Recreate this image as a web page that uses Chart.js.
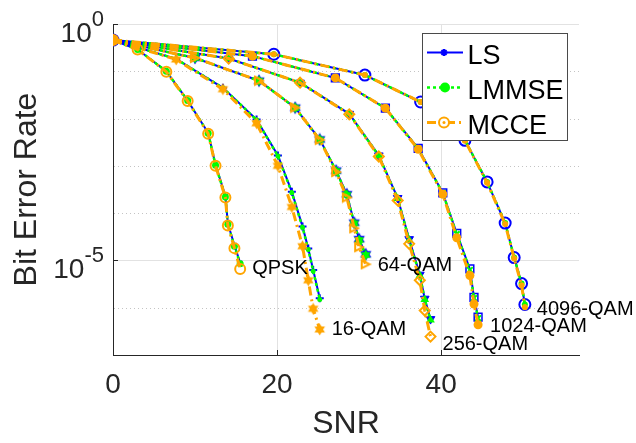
<!DOCTYPE html>
<html>
<head>
<meta charset="utf-8">
<script src="https://cdn.jsdelivr.net/npm/chart.js@4/dist/chart.umd.min.js"></script>
<style>
  html, body { margin: 0; padding: 0; background: #fff; }
  #wrap { width: 636px; height: 443px; }
</style>
</head>
<body>
<div id="wrap"><canvas id="c" width="636" height="443"></canvas></div>
<script>
// ---- data: SNR (dB) and bit error rate per modulation and estimator ----
const modulations = ['QPSK', '16-QAM', '64-QAM', '256-QAM', '1024-QAM', '4096-QAM'];
const methods = ['LS', 'LMMSE', 'MCCE'];

const snrQpsk   = [0, 3, 6.5, 9.1, 11.6, 12.5, 13.7, 14.0, 14.8, 15.5];
const lsQpsk    = [0.457, 0.288, 0.1, 0.024, 5.0e-3, 1.05e-3, 2.3e-4, 6.0e-5, 2.1e-5, 8.9e-6];
const lmmseQpsk = [0.457, 0.288, 0.1, 0.024, 4.9e-3, 1.03e-3, 2.2e-4, 5.8e-5, 2.0e-5, 8.5e-6];
const mcceQpsk  = [0.457, 0.288, 0.0977, 0.0234, 4.79e-3, 1.0e-3, 2.14e-4, 5.5e-5, 1.82e-5, 6.6e-6];

const snr16     = [0, 7.7, 13.4, 17.5, 20.1, 21.8, 23.1, 23.8, 24.4, 25.2];
const ls16      = [0.457, 0.182, 0.0447, 9.55e-3, 1.66e-3, 2.82e-4, 5.25e-5, 1.78e-5, 6.3e-6, 1.58e-6];
const lmmse16   = [0.457, 0.182, 0.0447, 9.4e-3, 1.62e-3, 2.7e-4, 5.0e-5, 1.7e-5, 6.0e-6, 1.5e-6];
const mcce16    = [0.457, 0.178, 0.0417, 7.94e-3, 1.0e-3, 1.35e-4, 2.0e-5, 3.8e-6, 9.5e-7, 3.47e-7];

const snr64     = [0, 10, 17.8, 22.2, 25.2, 27.2, 28.5, 29.4, 30.0, 30.8];
const ls64      = [0.457, 0.191, 0.0631, 0.017, 3.63e-3, 7.94e-4, 2.51e-4, 6.3e-5, 2.82e-5, 1.35e-5];
const lmmse64   = [0.457, 0.191, 0.0631, 0.017, 3.6e-3, 7.8e-4, 2.45e-4, 6.1e-5, 2.7e-5, 1.3e-5];
const mcce64    = [0.457, 0.191, 0.0631, 0.017, 3.55e-3, 7.41e-4, 2.14e-4, 4.79e-5, 1.91e-5, 8.3e-6];

const snr256    = [0, 14.1, 22.8, 28.8, 32.4, 34.7, 36.1, 37.4, 38.0, 38.7];
const ls256     = [0.457, 0.186, 0.0575, 0.0126, 1.66e-3, 2.09e-4, 2.82e-5, 5.0e-6, 1.55e-6, 5.75e-7];
const lmmse256  = [0.457, 0.186, 0.0575, 0.0125, 1.64e-3, 2.05e-4, 2.7e-5, 4.8e-6, 1.5e-6, 5.5e-7];
const mcce256   = [0.457, 0.186, 0.0575, 0.0123, 1.58e-3, 1.86e-4, 2.24e-5, 3.8e-6, 8.7e-7, 2.45e-7];

const snr1024   = [0, 17.0, 27.1, 33.2, 37.2, 40.2, 41.9, 43.5, 44.0, 44.5];
const ls1024    = [0.457, 0.209, 0.0724, 0.0166, 2.34e-3, 2.69e-4, 3.72e-5, 6.6e-6, 1.66e-6, 6.3e-7];
const lmmse1024 = [0.457, 0.209, 0.0724, 0.0166, 2.3e-3, 2.65e-4, 3.6e-5, 6.3e-6, 1.6e-6, 6.0e-7];
const mcce1024  = [0.457, 0.209, 0.0724, 0.0166, 2.24e-3, 2.51e-4, 3.02e-5, 4.79e-6, 1.2e-6, 4.37e-7];

const snr4096   = [0, 19.6, 30.7, 37.5, 42.9, 45.6, 47.8, 48.9, 49.8, 50.2];
const ls4096    = [0.457, 0.229, 0.0832, 0.0224, 3.47e-3, 4.57e-4, 6.17e-5, 1.15e-5, 3.24e-6, 1.17e-6];
const lmmse4096 = [0.457, 0.229, 0.0832, 0.0224, 3.47e-3, 4.57e-4, 6.17e-5, 1.15e-5, 3.24e-6, 1.17e-6];
const mcce4096  = [0.457, 0.229, 0.0832, 0.0224, 3.4e-3, 4.4e-4, 5.9e-5, 1.1e-5, 3.0e-6, 1.02e-6];

// axis ticks
const xTickValues = [0, 20, 40];
const yTickValues = [1, 1e-5];
const yTickExponents = ['0', '-5'];

// ---- styling ----
const FONT = '"Liberation Sans", Arial, Helvetica, sans-serif';
const BLUE = '#0000ff', GREEN = '#00ff00', ORANGE = '#ffa500';
const AXIS = '#262626';

function hexagram(color, size) {
  const c = document.createElement('canvas');
  c.width = c.height = size;
  const g = c.getContext('2d');
  const r = size / 2 - 0.5, cx = size / 2, cy = size / 2;
  g.fillStyle = color;
  for (const rot of [-Math.PI / 2, Math.PI / 2]) {
    g.beginPath();
    for (let k = 0; k < 3; k++) {
      const a = rot + k * 2 * Math.PI / 3;
      const px = cx + r * Math.cos(a), py = cy + r * Math.sin(a);
      if (k) g.lineTo(px, py); else g.moveTo(px, py);
    }
    g.closePath();
    g.fill();
  }
  return c;
}
function triangleRight(color, size, lw) {
  const c = document.createElement('canvas');
  c.width = c.height = size;
  const g = c.getContext('2d');
  g.strokeStyle = color; g.lineWidth = lw; g.lineJoin = 'miter';
  g.beginPath();
  g.moveTo(lw, lw); g.lineTo(size - lw, size / 2); g.lineTo(lw, size - lw); g.closePath();
  g.stroke();
  return c;
}

const series = [
  { snr: snrQpsk, ber: { LS: lsQpsk, LMMSE: lmmseQpsk, MCCE: mcceQpsk } },
  { snr: snr16,   ber: { LS: ls16,   LMMSE: lmmse16,   MCCE: mcce16 } },
  { snr: snr64,   ber: { LS: ls64,   LMMSE: lmmse64,   MCCE: mcce64 } },
  { snr: snr256,  ber: { LS: ls256,  LMMSE: lmmse256,  MCCE: mcce256 } },
  { snr: snr1024, ber: { LS: ls1024, LMMSE: lmmse1024, MCCE: mcce1024 } },
  { snr: snr4096, ber: { LS: ls4096, LMMSE: lmmse4096, MCCE: mcce4096 } },
];

// line style per estimator
const lineStyle = {
  LS:    { borderColor: BLUE,   borderWidth: 2,   borderDash: [] },
  LMMSE: { borderColor: GREEN,  borderWidth: 2.5, borderDash: [3, 3] },
  MCCE:  { borderColor: ORANGE, borderWidth: 3,   borderDash: [9, 4, 2, 4] },
};

// marker style per estimator and modulation
const markerStyle = {
  LS: [
    { pointStyle: 'crossRot', pointRadius: 3, pointBorderWidth: 1.5, pointBorderColor: BLUE, pointBackgroundColor: BLUE },
    { pointStyle: 'cross', pointRadius: 4, pointBorderWidth: 2, pointBorderColor: BLUE, pointBackgroundColor: BLUE },
    { pointStyle: hexagram(BLUE, 14), pointRadius: 7 },
    { pointStyle: 'triangle', pointRotation: 180, pointRadius: 5, pointBorderWidth: 1, pointBorderColor: BLUE, pointBackgroundColor: BLUE },
    { pointStyle: 'rect', pointRadius: 5.5, pointBorderWidth: 1.5, pointBorderColor: BLUE, pointBackgroundColor: 'rgba(0,0,0,0)' },
    { pointStyle: 'circle', pointRadius: 5.5, pointBorderWidth: 2, pointBorderColor: BLUE, pointBackgroundColor: 'rgba(0,0,0,0)' },
  ],
  LMMSE: [
    { pointStyle: 'circle', pointRadius: 3.5, pointBorderWidth: 0, pointBackgroundColor: GREEN },
    { pointStyle: 'circle', pointRadius: 2.5, pointBorderWidth: 0, pointBackgroundColor: GREEN },
    { pointStyle: hexagram(GREEN, 12), pointRadius: 6 },
    { pointStyle: 'triangle', pointRadius: 5, pointBorderWidth: 0, pointBackgroundColor: GREEN },
    { pointStyle: 'crossRot', pointRadius: 4, pointBorderWidth: 2, pointBorderColor: GREEN, pointBackgroundColor: GREEN },
    { pointStyle: 'circle', pointRadius: 3, pointBorderWidth: 0, pointBackgroundColor: GREEN },
  ],
  MCCE: [
    { pointStyle: 'circle', pointRadius: 5, pointBorderWidth: 2, pointBorderColor: ORANGE, pointBackgroundColor: 'rgba(0,0,0,0)' },
    { pointStyle: hexagram(ORANGE, 13), pointRadius: 7 },
    { pointStyle: triangleRight(ORANGE, 12, 2), pointRadius: 6 },
    { pointStyle: 'rectRot', pointRadius: 5, pointBorderWidth: 2, pointBorderColor: ORANGE, pointBackgroundColor: 'rgba(0,0,0,0)' },
    { pointStyle: 'circle', pointRadius: 4.5, pointBorderWidth: 0, pointBackgroundColor: ORANGE },
    { pointStyle: 'circle', pointRadius: 3, pointBorderWidth: 0, pointBackgroundColor: ORANGE },
  ],
};

// MCCE first so it is painted on top, LS last so it sits underneath
const datasets = [];
['MCCE', 'LMMSE', 'LS'].forEach(m => {
  series.forEach((s, i) => {
    datasets.push(Object.assign({
      label: m + ' ' + modulations[i],
      data: s.snr.map((x, k) => ({ x: x, y: s.ber[m][k] })),
      fill: false,
      tension: 0,
      pointHoverRadius: 0,
    }, lineStyle[m], markerStyle[m][i]));
  });
});

// grid lines (major solid, minor decades dotted) and inward tick marks
const gridPlugin = {
  id: 'matlabGrid',
  beforeDatasetsDraw(chart) {
    const { ctx, chartArea: a, scales: { x, y } } = chart;
    ctx.save();
    ctx.lineWidth = 1;
    for (let e = 0; e >= -6; e--) {
      const v = Math.pow(10, e);
      const py = Math.round(y.getPixelForValue(v)) + 0.5;
      const major = yTickValues.some(t => Math.abs(Math.log10(t) - e) < 1e-9);
      ctx.strokeStyle = major ? '#e2e2e2' : '#c4c4c4';
      ctx.setLineDash(major ? [] : [1, 3]);
      ctx.beginPath(); ctx.moveTo(a.left + 1, py); ctx.lineTo(a.right, py); ctx.stroke();
    }
    ctx.setLineDash([]);
    ctx.strokeStyle = '#e2e2e2';
    xTickValues.forEach(v => {
      if (v === x.min) return;
      const px = Math.round(x.getPixelForValue(v)) + 0.5;
      ctx.beginPath(); ctx.moveTo(px, a.top); ctx.lineTo(px, a.bottom - 1); ctx.stroke();
    });
    // inward ticks
    ctx.strokeStyle = AXIS;
    xTickValues.forEach(v => {
      const px = Math.round(x.getPixelForValue(v)) + 0.5;
      ctx.beginPath(); ctx.moveTo(px, a.bottom); ctx.lineTo(px, a.bottom - 5); ctx.stroke();
    });
    yTickValues.forEach(v => {
      const py = Math.round(y.getPixelForValue(v)) + 0.5;
      ctx.beginPath(); ctx.moveTo(a.left, py); ctx.lineTo(a.left + 5, py); ctx.stroke();
    });
    ctx.restore();
  }
};

// y tick labels with exponents, curve labels and the legend box
const annotatePlugin = {
  id: 'annotate',
  afterDraw(chart) {
    const { ctx, chartArea: a, scales: { x, y } } = chart;
    ctx.save();

    // y tick labels: 10^e
    ctx.fillStyle = AXIS;
    ctx.textBaseline = 'alphabetic';
    ctx.textAlign = 'left';
    yTickValues.forEach((v, i) => {
      const py = y.getPixelForValue(v);
      ctx.font = '28px ' + FONT;
      const wb = ctx.measureText('10').width;
      ctx.font = '22px ' + FONT;
      const we = ctx.measureText(yTickExponents[i]).width;
      const x0 = a.left - 9 - wb - we;
      ctx.font = '28px ' + FONT;
      ctx.fillText('10', x0, py + 17.5);
      ctx.font = '22px ' + FONT;
      ctx.fillText(yTickExponents[i], x0 + wb, py + 2);
    });

    // modulation labels next to the last MCCE point of each curve
    const labelShift = [0, 0, 1, 8, 2, 2];
    ctx.fillStyle = '#000';
    ctx.font = '20px ' + FONT;
    ctx.textBaseline = 'middle';
    series.forEach((s, i) => {
      const n = s.snr.length - 1;
      const px = x.getPixelForValue(s.snr[n]);
      const py = y.getPixelForValue(s.ber.MCCE[n]);
      ctx.fillText(modulations[i], px + 12, py + labelShift[i]);
    });

    // legend
    const L = 422.5, T = 33.5, R = 567.5, B = 140.5;
    ctx.fillStyle = '#fff';
    ctx.fillRect(L, T, R - L, B - T);
    ctx.strokeStyle = '#4a4a4a';
    ctx.lineWidth = 1;
    ctx.strokeRect(L, T, R - L, B - T);
    const rowY = [52.5, 87.5, 122.5];
    methods.forEach((m, i) => {
      const st = lineStyle[m];
      const yy = rowY[i];
      ctx.strokeStyle = st.borderColor;
      ctx.lineWidth = st.borderWidth;
      ctx.setLineDash(st.borderDash);
      ctx.beginPath(); ctx.moveTo(427, yy); ctx.lineTo(463, yy); ctx.stroke();
      ctx.setLineDash([]);
      if (m === 'LS') {
        ctx.strokeStyle = BLUE; ctx.fillStyle = BLUE;
        Chart.helpers.drawPoint(ctx, { pointStyle: 'star', radius: 3.5, borderWidth: 2, rotation: 90 }, 444, yy);
      } else if (m === 'LMMSE') {
        ctx.fillStyle = GREEN;
        ctx.beginPath(); ctx.arc(445, yy, 5, 0, Math.PI * 2); ctx.fill();
      } else {
        ctx.strokeStyle = ORANGE; ctx.lineWidth = 2; ctx.fillStyle = '#fff';
        ctx.beginPath(); ctx.arc(444, yy, 5, 0, Math.PI * 2); ctx.fill(); ctx.stroke();
        ctx.fillStyle = ORANGE;
        ctx.beginPath(); ctx.arc(444, yy, 1.5, 0, Math.PI * 2); ctx.fill();
      }
      ctx.fillStyle = '#000';
      ctx.font = '27px ' + FONT;
      ctx.textBaseline = 'alphabetic';
      ctx.fillText(m, 467.5, yy + 11.7);
    });
    ctx.restore();
  }
};

new Chart(document.getElementById('c').getContext('2d'), {
  type: 'line',
  data: { datasets },
  options: {
    responsive: false,
    animation: false,
    events: [],
    layout: { padding: { left: 0, right: 57, top: 24, bottom: 0 } },
    plugins: { legend: { display: false }, tooltip: { enabled: false } },
    scales: {
      x: {
        type: 'linear',
        min: 0,
        max: 56.8,
        afterBuildTicks: s => { s.ticks = xTickValues.map(v => ({ value: v })); },
        afterFit: s => { s.height = 88; },
        grid: { display: false, drawTicks: false },
        border: { display: true, color: AXIS, width: 1 },
        ticks: { font: { family: FONT, size: 28 }, color: AXIS, padding: 13, maxRotation: 0, autoSkip: false },
        title: { display: true, text: 'SNR', color: AXIS, font: { family: FONT, size: 32 }, padding: { top: 0, bottom: 0 } }
      },
      y: {
        type: 'logarithmic',
        min: 1e-7,
        max: 1,
        afterFit: s => { s.width = 113; },
        grid: { display: false, drawTicks: false },
        border: { display: true, color: AXIS, width: 1 },
        ticks: { display: false },
        title: { display: true, text: 'Bit Error Rate', color: AXIS, font: { family: FONT, size: 32 }, padding: { top: 8, bottom: 0 } }
      }
    }
  },
  plugins: [gridPlugin, annotatePlugin]
});
</script>
</body>
</html>
